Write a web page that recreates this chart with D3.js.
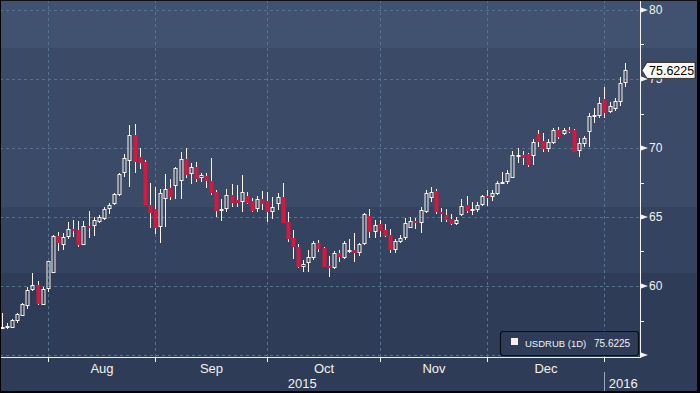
<!DOCTYPE html>
<html><head><meta charset="utf-8">
<script src="https://cdn.jsdelivr.net/npm/d3@7/dist/d3.min.js"></script>
<style>html,body{margin:0;padding:0;background:#000;}svg{display:block;}</style>
</head><body><div id="chart"></div>
<script>
// ---- data (USDRUB daily) ----
const startDate = "2015-07-21", endDate = "2016-01-07";
const openV = [56.96,56.98,56.98,57.46,57.85,58.55,59.71,60.05,58.62,59.76,
60.97,63.62,62.95,63.52,64.11,64.06,62.99,64.35,64.37,64.66,
64.86,65.56,65.92,66.57,68.21,69.08,70.94,69.32,69.01,65.87,
65.58,64.30,66.33,67.08,67.25,67.61,69.18,68.09,68.60,67.80,
67.99,67.61,66.84,65.46,65.58,66.59,66.23,66.06,66.52,66.16,
65.58,66.30,66.16,65.38,65.92,66.42,64.61,63.48,62.85,61.40,
61.64,62.00,63.09,62.78,61.45,61.28,62.37,62.00,62.51,62.61,
62.41,63.02,65.07,63.94,64.49,64.06,63.70,62.61,63.21,63.45,
64.23,64.73,64.59,65.38,66.40,66.88,65.38,65.14,64.86,64.49,
65.14,65.87,65.43,65.51,65.87,66.52,66.47,66.67,67.44,67.56,
67.80,69.42,69.47,69.57,69.42,71.01,70.53,69.90,70.38,71.30,
70.99,71.30,71.30,69.78,70.29,71.13,72.27,72.34,73.53,72.63,
72.80,73.36,74.69];
const highV = [58.02,57.30,57.61,58.07,58.75,59.90,60.97,60.36,59.90,61.80,
63.72,63.89,63.82,64.61,64.78,64.73,64.69,65.43,65.02,65.14,
65.75,66.04,66.76,68.16,69.57,71.67,71.74,70.02,69.13,67.44,
67.15,67.00,68.11,67.75,68.65,69.69,69.98,68.89,68.96,68.21,
68.21,69.25,66.96,66.28,67.00,67.39,67.32,68.04,66.79,66.35,
66.52,66.88,66.84,66.42,66.71,67.49,65.38,64.06,63.04,61.88,
62.61,63.28,63.33,62.85,62.17,62.56,62.61,63.28,63.41,63.86,
63.14,65.31,65.58,64.78,64.78,64.49,64.11,63.38,63.70,64.90,
64.98,64.90,65.70,66.96,67.15,67.00,65.63,65.56,65.22,64.98,
66.30,66.52,66.11,66.11,66.59,66.96,66.96,67.61,68.28,68.41,
69.78,69.98,69.78,69.61,70.63,71.30,71.06,70.63,71.42,71.50,
71.42,71.50,71.35,70.70,70.89,72.56,72.88,73.67,74.44,73.36,
73.60,75.12,76.18];
const lowV = [56.86,56.86,56.93,57.34,57.85,58.31,59.66,58.62,58.60,59.59,
60.92,62.56,62.61,63.38,63.57,62.80,62.99,63.50,63.65,64.54,
64.78,65.19,65.87,66.52,67.92,67.20,68.21,68.46,65.87,64.18,
63.77,63.09,64.30,66.23,66.28,66.28,67.80,67.39,67.56,67.56,
67.08,66.59,65.02,64.73,65.34,65.75,65.75,65.38,65.94,65.34,
65.38,65.51,64.66,64.86,65.51,64.59,63.21,61.98,61.28,60.98,
61.04,61.88,62.49,61.35,60.67,61.23,61.76,61.98,62.41,61.76,
62.17,62.97,63.50,63.50,63.57,63.57,62.41,62.41,63.09,63.33,
64.18,64.13,63.86,65.27,66.11,65.19,64.66,64.66,64.44,64.44,
65.07,65.31,65.14,65.38,65.80,65.80,66.18,66.59,67.39,67.39,
67.80,68.89,68.77,68.65,68.77,70.09,69.73,69.73,70.29,70.63,
70.94,71.06,69.73,69.32,70.09,70.09,71.83,72.15,72.15,72.51,
72.70,73.04,74.44];
const closeV = [57.05,57.10,57.54,57.95,58.70,59.71,60.05,58.70,59.78,61.79,
63.62,63.14,63.52,64.13,63.99,62.99,64.35,64.23,64.78,65.02,
65.56,65.85,66.64,68.11,69.25,70.94,69.01,68.89,65.87,65.27,
64.23,66.76,67.00,66.47,68.58,69.18,68.04,68.60,67.73,68.04,
67.61,66.72,65.46,65.58,66.59,66.04,65.99,66.79,66.04,65.46,
66.30,65.94,65.38,65.72,66.42,64.59,63.41,62.80,61.40,61.58,
62.08,63.14,62.66,61.40,61.35,62.37,62.08,63.09,62.61,62.41,
63.04,65.19,63.94,64.42,64.01,63.64,62.61,63.26,63.45,64.54,
64.71,64.61,65.51,66.76,66.81,65.38,65.19,64.78,64.49,64.78,
65.82,65.43,65.56,65.87,66.52,66.42,66.72,67.49,67.56,68.16,
69.50,69.49,69.30,68.77,70.46,70.46,69.93,70.46,71.30,70.77,
71.30,71.21,69.73,70.34,70.70,72.32,72.39,73.24,72.56,73.04,
73.43,74.73,75.6225];
const yTicks = [55,60,65,70,75,80];
const yLabels = [60,65,70,75,80];
const yMinor = [57.5,62.5,67.5,72.5,77.5];
const seriesName = "USDRUB (1D)";
const lastLabel = "75.6225";

// ---- build ----
const W = 700, H = 393;
const parse = d3.utcParse("%Y-%m-%d");
const dates = d3.utcDay.range(parse(startDate), d3.utcDay.offset(parse(endDate), 1))
  .filter(d => d.getUTCDay() !== 0 && d.getUTCDay() !== 6);
const data = dates.map((d, i) => ({date: d, o: openV[i], h: highV[i], l: lowV[i], c: closeV[i]}));

const svg = d3.select("#chart").append("svg").attr("width", W).attr("height", H);
const plotR = 640, plotB = 357;
const FONT = "'Liberation Sans', Arial, sans-serif";

// background bands
const bands = [[0,48,"#415170"],[48,207,"#3b4a67"],[207,273,"#34435f"],[273,H,"#2e3c58"]];
svg.selectAll("rect.bg").data(bands).join("rect").attr("class","bg")
  .attr("x",0).attr("y",d=>d[0]).attr("width",W).attr("height",d=>d[1]-d[0]).attr("fill",d=>d[2]);

const x = d3.scaleBand().domain(dates).range([-0.3, 627.9]).padding(0);
const y = d3.scaleLinear().domain([55, 80]).range([355, 10]);
const cx = d => Math.floor(x(d) + x.bandwidth() / 2) + 0.5;
const py = v => Math.round(y(v)) + 0.5;

// month ticks: first weekday of each month
const monthTicks = dates.filter((d, i) => i > 0 && d.getUTCMonth() !== dates[i-1].getUTCMonth());

const grid = svg.append("g").attr("stroke", "#58738f").attr("stroke-width", 1).attr("stroke-dasharray", "3,3");
grid.selectAll("line.h").data(yTicks).join("line").attr("class","h")
  .attr("x1", 0).attr("x2", plotR).attr("y1", d => py(d)).attr("y2", d => py(d));
grid.selectAll("line.v").data(monthTicks).join("line").attr("class","v")
  .attr("x1", d => cx(d)).attr("x2", d => cx(d)).attr("y1", 0).attr("y2", plotB);

// candles
svg.append("clipPath").attr("id","clip").append("rect").attr("x",0).attr("y",0).attr("width",plotR).attr("height",plotB);
const cg = svg.append("g").attr("clip-path","url(#clip)");
const white = "#fbf3ee", red = "#d7173d";
data.forEach(d => {
  const X = cx(d.date);
  const top = Math.max(d.o, d.c), bot = Math.min(d.o, d.c);
  const yt = Math.round(y(top)), yb = Math.round(y(bot));
  const yh = Math.round(y(d.h)), yl = Math.round(y(d.l));
  cg.append("line").attr("x1",X).attr("x2",X).attr("y1",yh).attr("y2",yt).attr("stroke",white);
  cg.append("line").attr("x1",X).attr("x2",X).attr("y1",yb).attr("y2",yl).attr("stroke",white);
  if (d.c >= d.o) {
    cg.append("rect").attr("x", X - 1.5).attr("y", yt + 0.5).attr("width", 3).attr("height", Math.max(1, yb - yt - 1))
      .attr("fill","none").attr("stroke",white).attr("stroke-width",1);
  } else {
    cg.append("rect").attr("x", X - 2).attr("y", yt).attr("width", 4).attr("height", Math.max(2, yb - yt))
      .attr("fill", red);
  }
});

// axes
const axisCol = "#f4f1ee";
svg.append("line").attr("x1", plotR + 0.5).attr("x2", plotR + 0.5).attr("y1", 0).attr("y2", plotB + 0.5).attr("stroke", axisCol);
svg.append("line").attr("x1", 0).attr("x2", plotR + 1).attr("y1", plotB + 0.5).attr("y2", plotB + 0.5).attr("stroke", axisCol);
svg.selectAll("path.ytri").data(yTicks).join("path").attr("class","ytri")
  .attr("d", d => { const yy = y(d); return `M${plotR+1},${yy-2.5}L${plotR+8},${yy}L${plotR+1},${yy+2.5}Z`; })
  .attr("fill", axisCol);
svg.selectAll("line.ymin").data(yMinor).join("line").attr("class","ymin")
  .attr("x1", plotR).attr("x2", plotR + 4).attr("y1", d => py(d)).attr("y2", d => py(d)).attr("stroke", axisCol);
svg.selectAll("text.ylab").data(yLabels).join("text").attr("class","ylab")
  .attr("x", plotR + 9).attr("y", d => y(d) + 4.3)
  .attr("font-family", FONT).attr("font-size", 12).attr("fill", axisCol)
  .text(d => d3.format("d")(d));

// x ticks and labels
svg.selectAll("line.xt").data(monthTicks).join("line").attr("class","xt")
  .attr("x1", d => cx(d)).attr("x2", d => cx(d)).attr("y1", plotB).attr("y2", plotB + 5).attr("stroke", axisCol);
const fmtM = d3.utcFormat("%b");
const monthLab = monthTicks.slice(0, -1).map((d, i) => ({t: fmtM(d), x: (cx(d) + cx(monthTicks[i+1])) / 2}));
svg.selectAll("text.mlab").data(monthLab).join("text").attr("class","mlab")
  .attr("x", d => d.x).attr("y", 372.5).attr("text-anchor","middle")
  .attr("font-family", FONT).attr("font-size", 13).attr("fill", axisCol)
  .text(d => d.t);
const yearStart = monthTicks.find(d => d.getUTCMonth() === 0);
const yearLab = [{t: d3.utcFormat("%Y")(dates[0]), x: (0 + cx(yearStart)) / 2},
                 {t: d3.utcFormat("%Y")(yearStart), x: (cx(yearStart) + plotR) / 2 + 1}];
svg.selectAll("text.yrlab").data(yearLab).join("text").attr("class","yrlab")
  .attr("x", d => d.x).attr("y", 388).attr("text-anchor","middle")
  .attr("font-family", FONT).attr("font-size", 13).attr("fill", axisCol)
  .text(d => d.t);
svg.append("line").attr("x1", cx(yearStart)).attr("x2", cx(yearStart)).attr("y1", 372).attr("y2", 391).attr("stroke", "#9aa6b8");

// legend
const lg = svg.append("g");
lg.append("rect").attr("x", 500.5).attr("y", 331.5).attr("width", 138).attr("height", 24).attr("rx", 2.5)
  .attr("fill", "#2e3c58").attr("stroke", "#0b0e14").attr("stroke-width", 1.2);
lg.append("rect").attr("x", 511).attr("y", 338).attr("width", 7).attr("height", 7).attr("fill", "#fdeeee");
lg.append("text").attr("x", 525).attr("y", 346.5).attr("font-family", FONT)
  .attr("font-size", 9.5).attr("fill", "#eef2f6").text(seriesName);
lg.append("text").attr("x", 594).attr("y", 346.5).attr("font-family", FONT)
  .attr("font-size", 10).attr("fill", "#eef2f6").text(lastLabel);

// last price label
const ly = y(closeV[closeV.length - 1]);
svg.append("path").attr("d", `M${plotR+2},${ly}L${plotR+7},${ly-8}L695,${ly-8}L695,${ly+8}L${plotR+7},${ly+8}Z`)
  .attr("fill", "#fff8f2").attr("stroke", "#1a1a1a").attr("stroke-width", 0.8);
svg.append("text").attr("x", plotR + 9).attr("y", ly + 4.6).attr("font-family", FONT)
  .attr("font-size", 12.5).attr("fill", "#000").text(lastLabel);

// frame
svg.append("rect").attr("x",0).attr("y",0).attr("width",1).attr("height",H).attr("fill","#000");
svg.append("rect").attr("x",0).attr("y",0).attr("width",W).attr("height",1).attr("fill","#111");
svg.append("rect").attr("x",697).attr("y",0).attr("width",3).attr("height",H).attr("fill","#000");
svg.append("rect").attr("x",0).attr("y",391).attr("width",W).attr("height",2).attr("fill","#000");
</script></body></html>
